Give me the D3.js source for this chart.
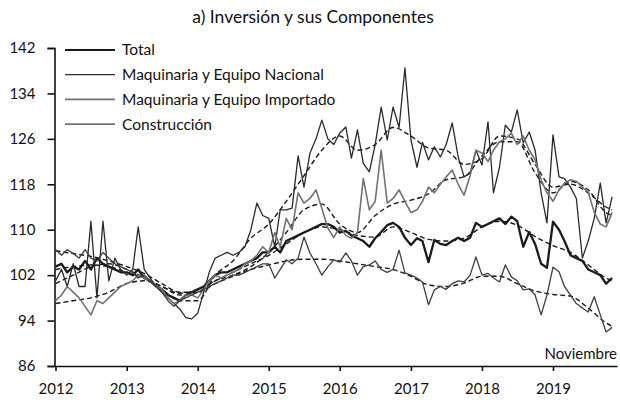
<!DOCTYPE html>
<html>
<head>
<meta charset="utf-8">
<script src="https://cdn.jsdelivr.net/npm/d3@7"></script>
<style>
  body { margin: 0; background: #fff; }
  text { font-family: Lato, "Open Sans", sans-serif; fill: #111; }
</style>
</head>
<body>
<script>
const width = 620;
const height = 403;

// monthly data, Jan 2012 .. Nov 2019
const firstMonth = new Date(2012, 0, 1);

const total = [
  103.5, 104, 102.5, 103.5, 103, 104.5, 103, 105, 104, 103.5, 103, 102.5,
  102.5, 102, 103, 101.5, 101, 100, 99.5, 98.5, 98, 97.5, 98.5, 99,
  99.5, 100, 101, 102, 102.5, 102.5, 103, 103.5, 104, 104.5, 105, 106,
  106, 107, 106, 108, 108.5, 109, 109.5, 110, 110.5, 111, 111, 110.5,
  109.5, 109.8, 109, 108.5, 108, 107, 108.5, 109.6, 110.8, 111.2, 110.5, 108.6,
  107.3, 108.5, 108, 104.3, 108.2, 107.5, 107.3, 108, 108.6, 108, 108.6, 111.2,
  110.5, 111, 111.5, 112, 111, 112.3, 111.5, 107, 109.6, 107.5, 104, 103.3,
  111.4, 110, 108, 105.5, 105, 104.5, 103, 102.5, 102, 100.5, 101.5
];

const nacional = [
  101, 103, 100, 104, 100, 100, 111.5, 98, 111.5, 101, 105, 103,
  102, 103, 110.5, 103, 101.5, 100, 99, 98, 97, 96, 94.5, 94.3,
  95.3, 99, 102.5, 105, 105.5, 106, 105.5, 106, 107, 110, 114.7, 112.5,
  112, 107, 113.5, 113.5, 113.8, 123, 117.5, 123.5, 126, 129.3, 126, 125,
  127, 128.1, 122.6, 127.6, 121.7, 120.2, 125, 131.6, 125.8, 131.6, 128, 138.5,
  125.8, 121, 125.4, 122.3, 124.6, 122.8, 125, 128.8, 122.8, 119.3, 120, 124,
  121.4, 129, 116.5, 121, 128.4, 127.2, 131.1, 125.3, 127.2, 124, 116.5, 111.2,
  126.7, 119.3, 119, 117.5, 115.5, 105, 108, 112, 118.2, 111.2, 115.8
];

const importado = [
  97.5, 98.5, 100, 99, 98, 96.5, 95, 97.5, 97, 98, 99, 100,
  100.5, 101, 102, 101.5, 101, 100, 99.5, 98, 97, 97.5, 98.5, 98.5,
  98, 99.5, 101, 102, 101.5, 102, 102.5, 103, 104, 104.5, 105.5, 107,
  106, 109.5, 107, 112, 110, 116.5, 114.7, 115.5, 117, 113.8, 110.3, 108.6,
  110.5, 109, 108.5, 109.5, 119, 113.5, 115, 124, 114.7, 115.5, 117, 115,
  113, 113.5, 115, 117.5, 116.5, 118, 119.3, 120.5, 118, 116.1, 119.5, 124,
  123.5, 122, 124, 125.5, 126, 127, 125, 126.5, 124, 122.3, 118.8, 116.5,
  115, 117, 118.2, 118.8, 118.5, 117.5, 116.6, 113.1, 111, 110.5, 113
];

const construccion = [
  106.5, 105.5, 106.5, 105.8, 105, 106.5, 105, 104.5, 106, 105, 104, 103.5,
  103, 102.5, 101.5, 102, 101, 100, 99, 97.5, 96.5, 97.5, 98, 98.5,
  99, 99.5, 100, 100.5, 101, 101.5, 102, 102, 102.5, 103, 103.5, 104,
  104, 101.5, 103, 104.7, 104, 105, 108.7, 105.9, 104, 102, 103.5, 104.7,
  104.3, 105.9, 104.5, 102, 103.5, 103.8, 104.5, 103, 102.5, 103, 106.4, 102.4,
  102, 101.5, 100.8, 96.8, 99.4, 100, 99.5, 100.5, 101, 100.8, 102, 105.2,
  102, 102.3, 101.5, 100.8, 103.8, 101.7, 101, 99.4, 99.6, 98.5, 95, 98.5,
  103.4, 102.6, 100, 98.5, 97, 96.2, 95.5, 98.2, 95, 92, 92.8
];

// trend lines, read every third month
const trendIdx = [0, 3, 6, 9, 12, 15, 18, 21, 24, 27, 30, 33, 36, 39, 42, 45, 48,
  51, 54, 57, 60, 63, 66, 69, 72, 75, 78, 81, 84, 87, 90, 93, 94];

const totalTrend = [103, 103.5, 103.8, 103.5, 102.5, 101.5, 100, 98.8, 99.5, 101, 102.5, 104,
  105.5, 107.5, 109.5, 110.5, 110, 109, 108.7, 110.5, 109.5, 108.3, 108, 108.5,
  110.5, 111.5, 110.8, 108.8, 107.2, 106, 103.8, 101.5, 101];
const nacionalTrend = [100.5, 102, 103.5, 104, 103, 101.5, 99.5, 97.5, 97.5, 102, 104.5, 108.5,
  111, 115, 119.5, 124, 126.5, 124, 125, 128, 126.5, 124.4, 124, 121.5,
  122.5, 126.5, 126, 121.5, 117.5, 118, 116.5, 114, 113.5];
const importadoTrend = [97, 97.5, 98, 99, 100.5, 101, 100, 98.5, 99, 101, 102, 103.5,
  106, 109.5, 113.5, 114.5, 111, 109.5, 112.5, 114.5, 115.2, 116.3, 118.8, 119.3,
  123, 125.5, 125.5, 120, 116.5, 118.5, 117, 113, 112.5];
const construccionTrend = [106.3, 105.8, 105.3, 104.5, 103.5, 102.3, 100.5, 99, 99, 100.5, 101.8, 103,
  103.8, 104.5, 104.8, 104.8, 104.5, 104, 103.5, 103, 101.8, 100.3, 100, 100.6,
  101.8, 101.8, 100.5, 99.2, 98.6, 98.3, 96.2, 93.6, 93];

const yTicks = [86, 94, 102, 110, 118, 126, 134, 142];
const yearTicks = [2012, 2013, 2014, 2015, 2016, 2017, 2018, 2019];

const seriesNames = ['Total', 'Maquinaria y Equipo Nacional', 'Maquinaria y Equipo Importado', 'Construcción'];
const seriesValues = [total, nacional, importado, construccion];
const trendValues = [totalTrend, nacionalTrend, importadoTrend, construccionTrend];
const seriesStyle = [
  { color: '#1a1a1a', w: 2.3 },
  { color: '#2a2a2a', w: 1.3 },
  { color: '#727272', w: 1.6 },
  { color: '#3e3e3e', w: 1.3 }
];

const svg = d3.select('body').append('svg').attr('width', width).attr('height', height);

const x = d3.scaleTime()
  .domain([new Date(2012, 0, 1), new Date(2019, 10, 26)])
  .range([55.5, 617]);
const y = d3.scaleLinear().domain([86, 142]).range([366, 48]);

const month = i => d3.timeMonth.offset(firstMonth, i);

// title
svg.append('text')
  .attr('x', 313).attr('y', 23)
  .attr('text-anchor', 'middle')
  .style('font-size', '17.5px')
  .text('a) Inversión y sus Componentes');

// axes
const yAxis = svg.append('g')
  .attr('transform', 'translate(54.5,0)')
  .call(d3.axisLeft(y).tickValues(yTicks).tickSize(7).tickPadding(12).tickFormat(d3.format('d')));
yAxis.selectAll('text').style('font-size', '15px');

const xAxis = svg.append('g')
  .attr('transform', 'translate(0,366)')
  .call(d3.axisBottom(x)
    .tickValues(yearTicks.map(yr => new Date(yr, 0, 1)))
    .tickSize(5).tickSizeOuter(0).tickPadding(12)
    .tickFormat(d3.timeFormat('%Y')));
xAxis.selectAll('text').style('font-size', '15px');

svg.selectAll('.domain, .tick line').attr('stroke', '#111').attr('stroke-width', 1.6);

// trend lines
const trendLine = d3.line()
  .x((d, i) => x(month(trendIdx[i])))
  .y(d => y(d))
  .curve(d3.curveMonotoneX);

svg.append('g').selectAll('path')
  .data(trendValues)
  .enter()
  .append('path')
  .attr('d', trendLine)
  .attr('fill', 'none')
  .attr('stroke', '#1a1a1a')
  .attr('stroke-width', 1.4)
  .attr('stroke-dasharray', '5,3');

// monthly series
const line = d3.line()
  .x((d, i) => x(month(i)))
  .y(d => y(d));

svg.append('g').selectAll('path')
  .data(seriesValues)
  .enter()
  .append('path')
  .attr('d', line)
  .attr('fill', 'none')
  .attr('stroke', (d, i) => seriesStyle[i].color)
  .attr('stroke-width', (d, i) => seriesStyle[i].w)
  .attr('stroke-linejoin', 'round');

// legend
const legend = svg.append('g').selectAll('g')
  .data(seriesNames)
  .enter()
  .append('g')
  .attr('transform', (d, i) => `translate(65,${50 + i * 24.7})`);

legend.append('line')
  .attr('x1', 0).attr('x2', 50)
  .attr('stroke', (d, i) => seriesStyle[i].color)
  .attr('stroke-width', (d, i) => Math.min(seriesStyle[i].w, 1.8));

legend.append('text')
  .attr('x', 57).attr('dy', '0.35em')
  .style('font-size', '15.5px')
  .text(d => d);

svg.append('text')
  .attr('x', 617).attr('y', 359)
  .attr('text-anchor', 'end')
  .style('font-size', '15px')
  .text('Noviembre');
</script>
</body>
</html>
